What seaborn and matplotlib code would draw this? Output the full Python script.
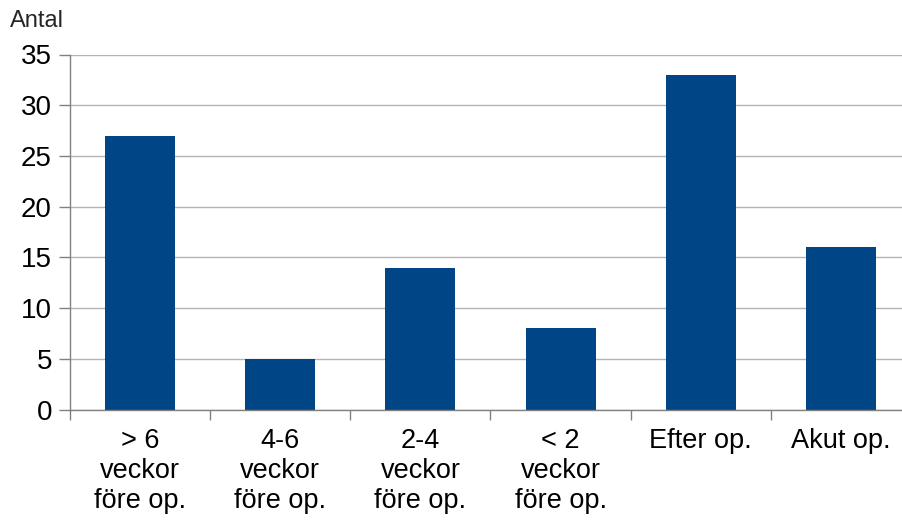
import matplotlib
matplotlib.use("Agg")
import matplotlib.pyplot as plt
import seaborn as sns
import pandas as pd
import numpy as np

categories = ["> 6\nveckor\nföre op.", "4-6\nveckor\nföre op.", "2-4\nveckor\nföre op.",
              "< 2\nveckor\nföre op.", "Efter op.", "Akut op."]
counts = [27, 5, 14, 8, 33, 16]
y_ticks = [0, 5, 10, 15, 20, 25, 30, 35]

sns.set_theme(style="white")
plt.rcParams["font.family"] = ["Liberation Sans", "DejaVu Sans"]

df = pd.DataFrame({"kategori": categories, "antal": counts})

fig = plt.figure(figsize=(9.03, 5.2), dpi=100)
ax = fig.add_axes([70 / 903, 110.5 / 520, 841 / 903, 355 / 520])

sns.barplot(data=df, x="kategori", y="antal", color="#004586", width=0.5,
            saturation=1, linewidth=0, ax=ax, zorder=3)

ax.set_ylim(0, 35)
ax.set_xlim(-0.5, len(categories) - 0.5)
ax.set_yticks(y_ticks)
ax.set_yticklabels([str(v) for v in y_ticks], fontsize=20, color="#000000")
ax.yaxis.grid(True, color="#b3b3b3", linewidth=1, zorder=0)
ax.xaxis.grid(False)

# category labels centred, tick marks at category boundaries
ax.set_xticks(range(len(categories)))
ax.set_xticklabels(categories, fontsize=19.5, linespacing=1.2, color="#000000",
                   va="top")
ax.set_xticks(np.arange(-0.5, len(categories), 1.0), minor=True)
ax.tick_params(axis="x", which="major", length=0, pad=13)
ax.tick_params(axis="x", which="minor", length=7.2, width=1, color="#808080",
               bottom=True)
ax.tick_params(axis="y", which="major", length=8, width=1, color="#808080",
               left=True, pad=5)

for side in ["top", "right"]:
    ax.spines[side].set_visible(False)
for side in ["left", "bottom"]:
    ax.spines[side].set_color("#808080")
    ax.spines[side].set_linewidth(1)
    ax.spines[side].set_zorder(4)

ax.set_xlabel("")
ax.set_ylabel("")
fig.text(10 / 903, 1 - 21 / 520, "Antal", fontsize=17, va="center", ha="left")

fig.savefig("out.png", dpi=100)
